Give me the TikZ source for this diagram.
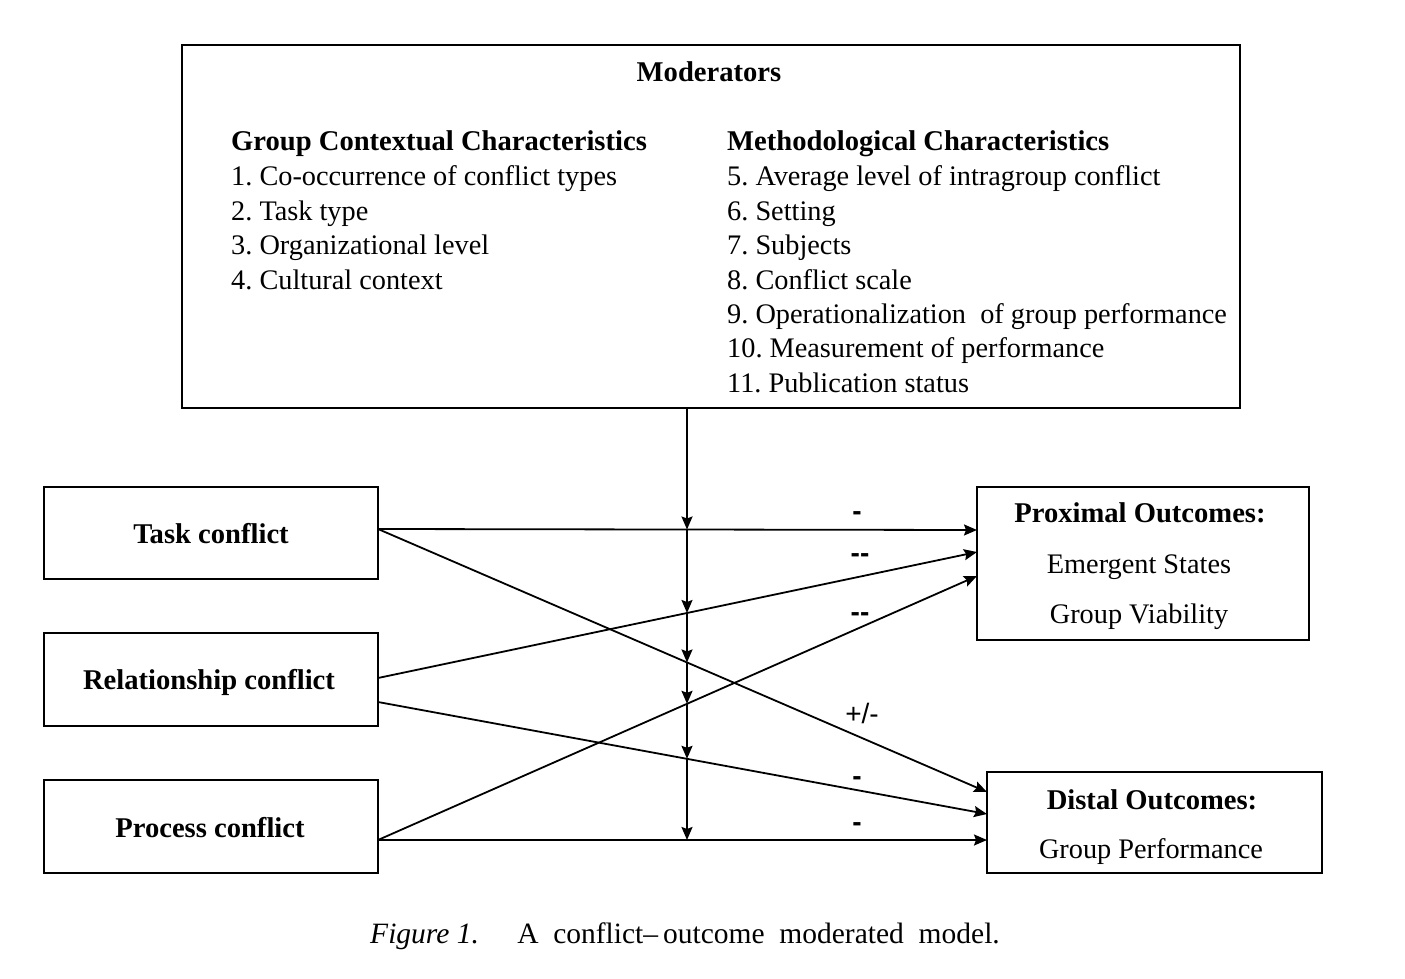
\documentclass[tikz,border=0pt]{standalone}
\usepackage{fontspec}
\setmainfont{Liberation Serif}
\newfontfamily\arialfont{Liberation Sans}
\usetikzlibrary{arrows.meta,calc,intersections}
\frenchspacing
\begin{document}
\begin{tikzpicture}[x=1pt,y=-1pt,
  box/.style={draw,line width=2.2pt,rectangle,inner sep=0pt},
  txt/.style={font=\fontsize{28.3}{34}\selectfont,inner sep=0pt,anchor=base west},
  btxt/.style={font=\fontsize{28.6}{34}\selectfont\bfseries,inner sep=0pt},
  ntxt/.style={font=\fontsize{28.3}{34}\selectfont,inner sep=0pt},
  sign/.style={font=\arialfont\fontsize{28}{30}\selectfont\bfseries,inner sep=0pt},
  conn/.style={line width=1.8pt,-{Stealth[length=13pt,width=11pt,inset=2pt]}},
]
\useasboundingbox (0,0) rectangle (1405,979);
\fill[white] (0,0) rectangle (1405,979);

% boxes
\node[box,minimum width=1058pt,minimum height=363pt] (mod) at (711,226.5) {};
\node[box,minimum width=334pt,minimum height=92pt] (task) at (211,533) {};
\node[box,minimum width=334pt,minimum height=93pt] (rel) at (211,679.5) {};
\node[box,minimum width=334pt,minimum height=93pt] (proc) at (211,826.5) {};
\node[box,minimum width=332pt,minimum height=153pt] (prox) at (1143,563.5) {};
\node[box,minimum width=335pt,minimum height=101pt] (dist) at (1154.5,822.5) {};

% moderator texts
\node[btxt] (modt) at (709,72) {Moderators};
\node[btxt,anchor=base west] (gcc) at (231,150) {Group Contextual Characteristics};
\node[txt] (g1) at (231,185) {1. Co-occurrence of conflict types};
\node[txt] (g2) at (231,220) {2. Task type};
\node[txt] (g3) at (231,254) {3. Organizational level};
\node[txt] (g4) at (231,289) {4. Cultural context};
\node[btxt,anchor=base west] (mc) at (727,150) {Methodological Characteristics};
\node[txt] (m5) at (727,185) {5. Average level of intragroup conflict};
\node[txt] (m6) at (727,220) {6. Setting};
\node[txt] (m7) at (727,254) {7. Subjects};
\node[txt] (m8) at (727,289) {8. Conflict scale};
\node[txt] (m9) at (727,323) {9. Operationalization\ \ of group performance};
\node[txt] (m10) at (727,357) {10. Measurement of performance};
\node[txt] (m11) at (727,392) {11. Publication status};

% box texts
\node[btxt] (taskt) at (211,534) {Task conflict};
\node[btxt] (relt) at (209,682) {Relationship conflict};
\node[btxt] (proct) at (210,828) {Process conflict};
\node[btxt] (proxt) at (1140,513) {Proximal Outcomes:};
\node[ntxt] (proxa) at (1139,567) {Emergent States};
\node[ntxt] (proxb) at (1139,617) {Group Viability};
\node[btxt] (distt) at (1152,800) {Distal Outcomes:};
\node[ntxt] (dista) at (1151,852) {Group Performance};

% connector end points
\coordinate (tS) at (378,529);
\coordinate (rS1) at (378,678);
\coordinate (rS2) at (378,702);
\coordinate (pS) at (378,840);
\coordinate (pE1) at (977,530);
\coordinate (pE2) at (977,552);
\coordinate (pE3) at (977,576);
\coordinate (dE1) at (987,792);
\coordinate (dE2) at (987,814);
\coordinate (dE3) at (987,840);

% main connectors
\draw[conn,name path=l1] (tS) -- (pE1);
\draw[conn,name path=l2] (rS1) -- (pE2);
\draw[conn,name path=l3] (pS) -- (pE3);
\draw[conn,name path=l4] (tS) -- (dE1);
\draw[conn,name path=l5] (rS2) -- (dE2);
\draw[conn,name path=l6] (pS) -- (dE3);

% moderator vertical line
\coordinate (vtop) at (mod.south -| 687,0);
\path[name path=v] (vtop) -- (687,900);
\path[name intersections={of=v and l1,by=i1}];
\path[name intersections={of=v and l2,by=i2}];
\path[name intersections={of=v and l4,by=i3}];
\path[name intersections={of=v and l3,by=i4}];
\path[name intersections={of=v and l5,by=i5}];
\path[name intersections={of=v and l6,by=i6}];
\draw[conn] (vtop) -- (i1);
\draw[conn] (i1) -- (i2);
\draw[conn] (i2) -- (i3);
\draw[conn] (i3) -- (i4);
\draw[conn] (i4) -- (i5);
\draw[conn] (i5) -- (i6);

% signs
\node[sign] (s1) at (857,516) {-};
\node[sign] (s2) at (860,558) {--};
\node[sign] (s3) at (860,617) {--};
\node[sign,font=\arialfont\fontsize{28}{30}\selectfont] (s4) at (862,713) {+/-};
\node[sign] (s5) at (857,781) {-};
\node[sign] (s6) at (857,827) {-};

% caption
\node[font=\fontsize{29.5}{34}\selectfont,inner sep=0pt,anchor=base] (cap) at (685,943)
  {\textit{Figure 1.}\hspace{1.3em}A\ \ conflict–\,outcome\ \ moderated\ \ model.};
\end{tikzpicture}
\end{document}
